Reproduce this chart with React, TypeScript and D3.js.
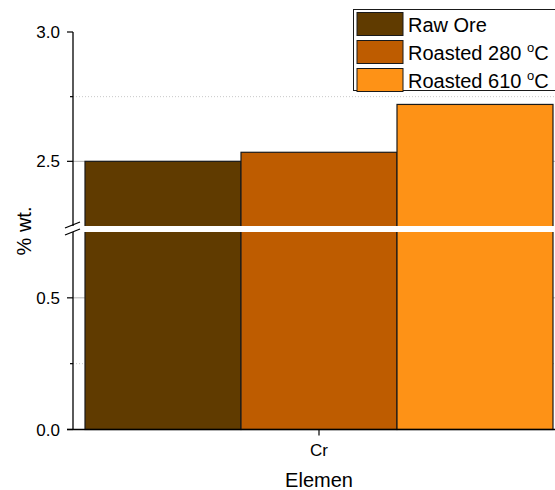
import React from 'react';
import * as d3 from 'd3';

const categories = ['Cr'];
const seriesNames = ['Raw Ore', 'Roasted 280 ºC', 'Roasted 610 ºC'];
const seriesColors = ['#603B00', '#BE5C00', '#FE9216'];
const crValues = [2.5, 2.535, 2.72];
const upperTicks = [2.5, 3.0];
const upperMinor = [2.75];
const lowerTicks = [0.0, 0.5];
const lowerMinor = [0.25];
const breakFrom = 0.75;
const breakTo = 2.25;

const App: React.FC = () => {
  const width = 555;
  const height = 490;
  const axisX = 73;
  const plotRight = 565;
  const gapTop = 226;
  const gapBottom = 232;

  const yUpper = d3.scaleLinear().domain([breakTo, 3.0]).range([gapTop, 32]);
  const yLower = d3.scaleLinear().domain([0, breakFrom]).range([429.5, gapBottom]);
  const y = (v: number) => (v >= breakTo ? yUpper(v) : yLower(Math.min(v, breakFrom)));

  const xCat = d3.scalePoint<string>().domain(categories).range([axisX, plotRight]).padding(0.5);
  const cx = xCat('Cr') ?? 319;
  const xSeries = d3.scaleBand<string>().domain(seriesNames).range([cx - 234, cx + 234]);

  const font = 'Arial, "Liberation Sans", sans-serif';

  const tickLabel = (v: number, yy: number) => (
    <g key={'t' + v}>
      <line x1={axisX - 6} x2={axisX} y1={yy} y2={yy} stroke="#000" strokeWidth={1.2} />
      <text x={60} y={yy} dy="0.36em" textAnchor="end" fontSize={17} fontFamily={font} fill="#000">
        {d3.format('.1f')(v)}
      </text>
    </g>
  );

  const legendRow = (name: string, i: number) => {
    const top = 12.5 + i * 28;
    const parts = name.split('º');
    return (
      <g key={name}>
        <rect x={357} y={top} width={46} height={23} fill={seriesColors[i]} stroke="#1a1a1a" strokeWidth={1} />
        <text x={408} y={top + 19} fontSize={20} fontFamily={font} fill="#000">
          {parts[0]}
          {parts.length > 1 && (
            <>
              <tspan fontSize={13} dy={-8}>o</tspan>
              <tspan dy={8}>{parts[1]}</tspan>
            </>
          )}
        </text>
      </g>
    );
  };

  return (
    <svg width={width} height={height} style={{ position: 'absolute', left: 0, top: 0, background: '#fff' }}>
      {/* grid lines */}
      {[...upperTicks.filter(t => t < 3), ...lowerTicks.filter(t => t > 0)].map(t => (
        <line key={'g' + t} x1={axisX} x2={plotRight} y1={y(t)} y2={y(t)} stroke="#b4b4b4" strokeWidth={1} />
      ))}
      {[...upperMinor, ...lowerMinor].map(t => (
        <line key={'m' + t} x1={axisX} x2={plotRight} y1={y(t)} y2={y(t)} stroke="#c8c8c8" strokeWidth={1} strokeDasharray="1,2" />
      ))}

      {/* bars */}
      {seriesNames.map((s, i) => (
        <rect
          key={s}
          x={xSeries(s)}
          y={y(crValues[i])}
          width={xSeries.bandwidth()}
          height={y(0) - y(crValues[i])}
          fill={seriesColors[i]}
          stroke="#1a1a1a"
          strokeWidth={1.2}
        />
      ))}

      {/* axis break gap */}
      <rect x={axisX - 2} y={gapTop} width={plotRight} height={gapBottom - gapTop} fill="#fff" />

      {/* axes */}
      <line x1={axisX} x2={axisX} y1={yUpper(3.0)} y2={gapTop} stroke="#000" strokeWidth={1.3} />
      <line x1={axisX} x2={axisX} y1={gapBottom} y2={yLower(0)} stroke="#000" strokeWidth={1.3} />
      <line x1={axisX - 6} x2={plotRight} y1={yLower(0)} y2={yLower(0)} stroke="#000" strokeWidth={1.6} />
      <line x1={65} x2={80} y1={228} y2={222} stroke="#000" strokeWidth={1.2} />
      <line x1={65} x2={80} y1={235} y2={229} stroke="#000" strokeWidth={1.2} />

      {upperTicks.map(t => tickLabel(t, yUpper(t)))}
      {lowerTicks.map(t => tickLabel(t, yLower(t)))}
      {[...upperMinor, ...lowerMinor].map(t => (
        <line key={'mt' + t} x1={axisX - 3} x2={axisX} y1={y(t)} y2={y(t)} stroke="#000" strokeWidth={1.2} />
      ))}

      {/* x tick */}
      <line x1={cx} x2={cx} y1={yLower(0)} y2={yLower(0) + 6} stroke="#000" strokeWidth={1.2} />
      <text x={cx} y={456} textAnchor="middle" fontSize={17} fontFamily={font} fill="#000">Cr</text>
      <text x={cx} y={487} textAnchor="middle" fontSize={20} fontFamily={font} fill="#000">Elemen</text>
      <text transform={`translate(31,231) rotate(-90)`} textAnchor="middle" fontSize={20} fontFamily={font} fill="#000">% wt.</text>

      {/* legend */}
      <rect x={353.5} y={9.5} width={220} height={81} fill="#fff" stroke="#1a1a1a" strokeWidth={1} />
      {seriesNames.map((s, i) => legendRow(s, i))}
    </svg>
  );
};

export default App;
